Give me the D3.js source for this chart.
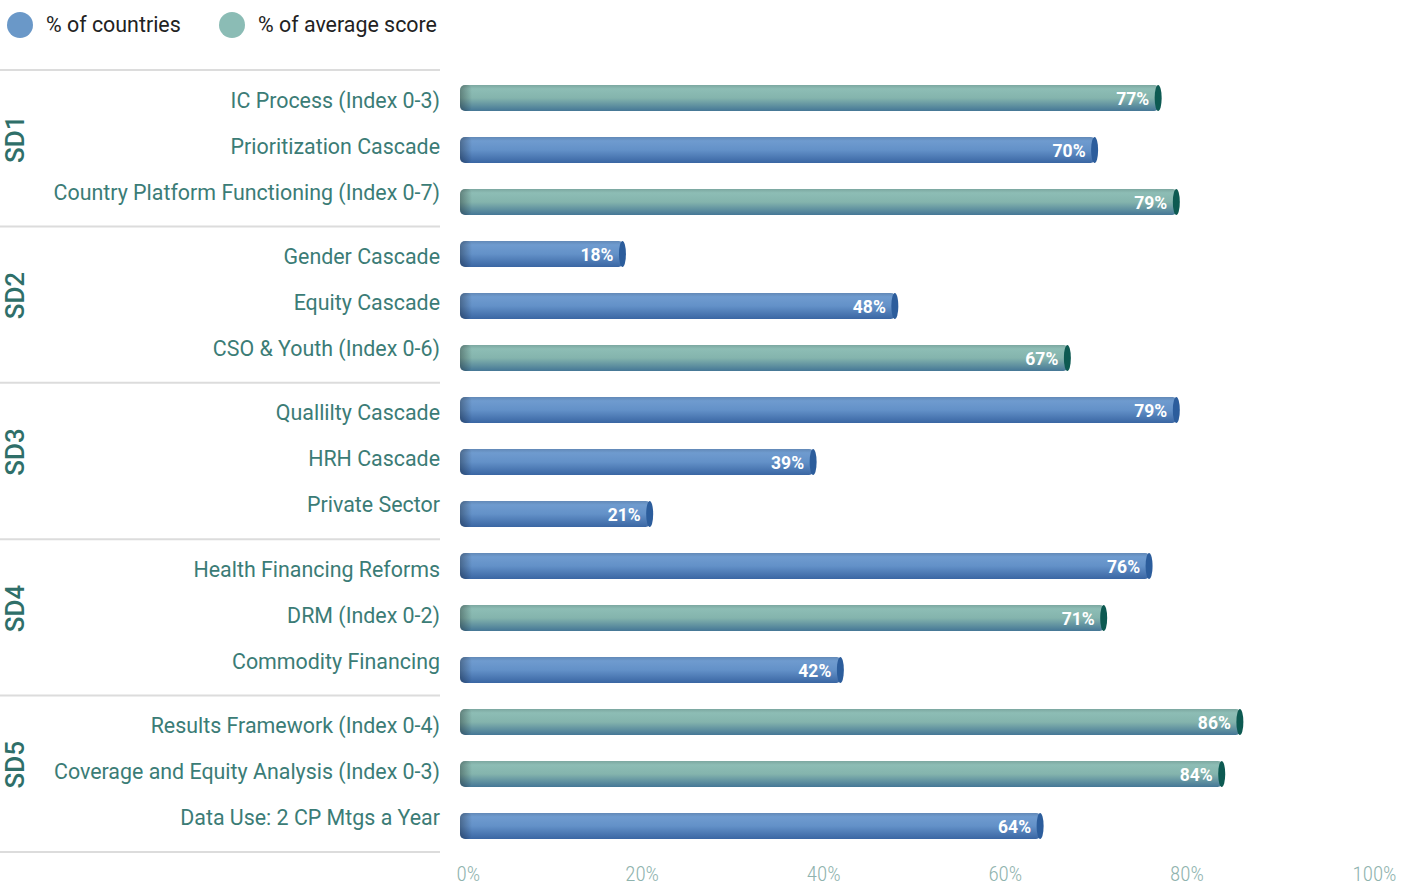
<!DOCTYPE html>
<html>
<head>
<meta charset="utf-8">
<script src="https://cdn.jsdelivr.net/npm/d3@7/dist/d3.min.js"></script>
<style>
  html, body { margin: 0; padding: 0; background: #fff; }
  svg { display: block; }
</style>
</head>
<body>
<svg id="chart" width="1418" height="886"></svg>
<script>
// Indicators, grouped by strategic domain
const groups = ["SD1", "SD2", "SD3", "SD4", "SD5"];
const indicators = [
  "IC Process (Index 0-3)", "Prioritization Cascade", "Country Platform Functioning (Index 0-7)",
  "Gender Cascade", "Equity Cascade", "CSO & Youth (Index 0-6)",
  "Quallilty Cascade", "HRH Cascade", "Private Sector",
  "Health Financing Reforms", "DRM (Index 0-2)", "Commodity Financing",
  "Results Framework (Index 0-4)", "Coverage and Equity Analysis (Index 0-3)", "Data Use: 2 CP Mtgs a Year"
];
const indicatorGroup = ["SD1","SD1","SD1","SD2","SD2","SD2","SD3","SD3","SD3","SD4","SD4","SD4","SD5","SD5","SD5"];
const values = [77, 70, 79, 18, 48, 67, 79, 39, 21, 76, 71, 42, 86, 84, 64];
// "score" = % of average score, "countries" = % of countries
const measure = ["score","countries","score","countries","countries","score","countries","countries","countries","countries","score","countries","score","score","countries"];
const seriesNames = ["% of countries", "% of average score"];
const seriesKeys = ["countries", "score"];
const tickValues = [0, 20, 40, 60, 80, 100];

const svg = d3.select("#chart");

const plotTop = 70, plotBottom = 852;
const x = d3.scaleLinear().domain([0, 100]).range([460, 1368]);
const y = d3.scaleBand().domain(d3.range(indicators.length)).range([plotTop + 2, plotBottom]).paddingInner(0.5).paddingOuter(0.25);
const gScale = d3.scaleBand().domain(groups).range([plotTop, plotBottom]);

const palette = {
  countries: { top: "#6f9bcf", mid: "#6391c8", bot: "#3a66a3", cap: "#2c5d9c", legend: "#6a98c8" },
  score:     { top: "#8dbdb5", mid: "#84b4ad", bot: "#457796", cap: "#0d5a52", legend: "#8bbcb5" }
};

const defs = svg.append("defs");
seriesKeys.forEach(k => {
  const c = palette[k];
  const lg = defs.append("linearGradient").attr("id", "body-" + k)
    .attr("x1", 0).attr("y1", 0).attr("x2", 0).attr("y2", 1);
  lg.append("stop").attr("offset", "0%").attr("stop-color", d3.color(c.top).darker(0.35));
  lg.append("stop").attr("offset", "15%").attr("stop-color", c.top);
  lg.append("stop").attr("offset", "50%").attr("stop-color", c.mid);
  lg.append("stop").attr("offset", "100%").attr("stop-color", c.bot);
});
// shading for the rounded left end of each bar
const edge = defs.append("linearGradient").attr("id", "edge-shade")
  .attr("x1", 0).attr("y1", 0).attr("x2", 1).attr("y2", 0);
edge.append("stop").attr("offset", "0%").attr("stop-color", "#000").attr("stop-opacity", 0.3);
edge.append("stop").attr("offset", "100%").attr("stop-color", "#000").attr("stop-opacity", 0);

// Legend
const legend = svg.append("g");
const legendX = [20, 232];
seriesKeys.forEach((k, i) => {
  legend.append("circle").attr("cx", legendX[i]).attr("cy", 25).attr("r", 13).attr("fill", palette[k].legend);
  legend.append("text").attr("x", legendX[i] + 26).attr("y", 25).attr("dy", "0.35em")
    .attr("font-family", "Roboto, sans-serif").attr("font-size", 21.4).attr("fill", "#222")
    .text(seriesNames[i]);
});

// Group separators
const sepYs = groups.map(g => gScale(g)).concat([plotBottom]);
svg.append("g").selectAll("line").data(sepYs).join("line")
  .attr("x1", 0).attr("x2", 440).attr("y1", d => d).attr("y2", d => d)
  .attr("stroke", "#dcdcdc").attr("stroke-width", 2);

// Group labels
svg.append("g").selectAll("text").data(groups).join("text")
  .attr("transform", g => `translate(15,${gScale(g) + gScale.bandwidth() / 2 - 9}) rotate(-90)`)
  .attr("text-anchor", "middle").attr("dy", "0.35em")
  .attr("font-family", "Roboto, sans-serif").attr("font-size", 26).attr("font-weight", 500)
  .attr("fill", "#2f6f69")
  .text(g => g);

// Indicator labels (three per group, evenly spread inside the group band)
svg.append("g").selectAll("text").data(indicators).join("text")
  .attr("x", 440)
  .attr("y", (d, i) => {
    const g = indicatorGroup[i];
    const pos = i - groups.indexOf(g) * 3;
    return gScale(g) + gScale.bandwidth() / 2 + (pos - 1) * 46 - 2;
  })
  .attr("dy", "0.35em").attr("text-anchor", "end")
  .attr("font-family", "Roboto, sans-serif").attr("font-size", 21.4)
  .attr("fill", "#3b7c76")
  .text(d => d);

// Bars
const bh = y.bandwidth();
const bars = svg.append("g").selectAll("g").data(values).join("g");
bars.append("rect")
  .attr("x", x(0)).attr("y", (d, i) => y(i))
  .attr("width", d => x(d) - x(0)).attr("height", bh)
  .attr("rx", 5).attr("ry", 5)
  .attr("fill", (d, i) => `url(#body-${measure[i]})`);
bars.append("rect")
  .attr("x", x(0)).attr("y", (d, i) => y(i))
  .attr("width", 12).attr("height", bh)
  .attr("rx", 5).attr("ry", 5)
  .attr("fill", "url(#edge-shade)");
bars.append("ellipse")
  .attr("cx", d => x(d) - 1).attr("cy", (d, i) => y(i) + bh / 2)
  .attr("rx", 3.5).attr("ry", bh / 2)
  .attr("fill", (d, i) => palette[measure[i]].cap);
bars.append("text")
  .attr("x", d => x(d) - 10).attr("y", (d, i) => y(i) + bh / 2 + 1)
  .attr("dy", "0.35em").attr("text-anchor", "end")
  .attr("font-family", "Roboto, sans-serif").attr("font-size", 17.5).attr("font-weight", 700)
  .attr("fill", "#fff")
  .text(d => d + "%");

// X axis
const axis = d3.axisBottom(x).tickValues(tickValues).tickFormat(d => d + "%").tickSize(0).tickPadding(0);
const ax = svg.append("g").attr("transform", `translate(0,${866})`).call(axis);
ax.select(".domain").remove();
ax.selectAll("text")
  .attr("font-family", "'Roboto Condensed', 'Liberation Sans Narrow', Roboto, sans-serif")
  .attr("font-weight", 300)
  .attr("font-size", 21).attr("fill", "#8fb3ae")
  .attr("text-anchor", (d, i) => i === 0 ? "start" : "middle")
  .attr("dx", (d, i) => i === 0 ? -4 : (i === tickValues.length - 1 ? 6 : 0));
</script>
</body>
</html>
